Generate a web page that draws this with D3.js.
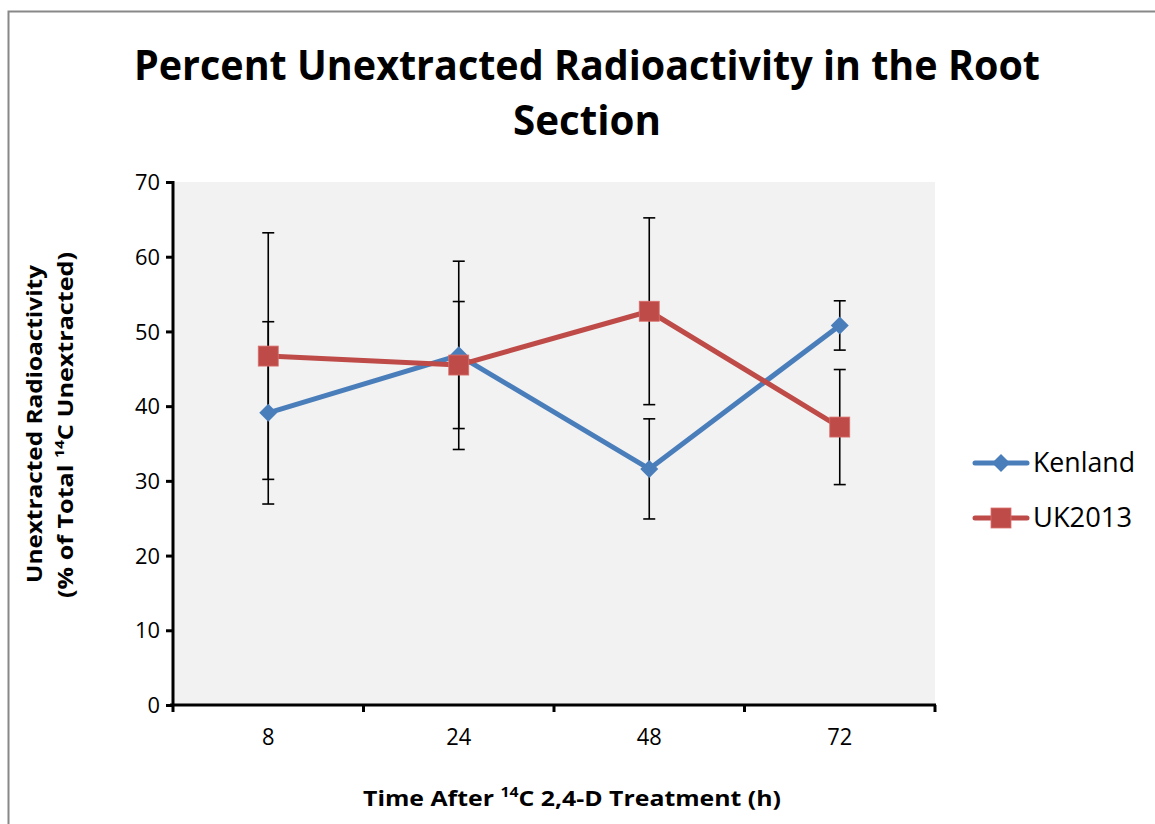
<!DOCTYPE html>
<html>
<head>
<meta charset="utf-8">
<script src="https://cdn.jsdelivr.net/npm/d3@7"></script>
<style>
  html, body { margin: 0; padding: 0; background: #fff; }
  svg { display: block; font-family: "Open Sans", "Liberation Sans", sans-serif; }
</style>
</head>
<body>
<svg id="chart" width="1155" height="824"></svg>
<script>
// ---- data ----
const categories = ["8", "24", "48", "72"];
const seriesNames = ["Kenland", "UK2013"];
const kenlandValues = [39.1, 46.8, 31.6, 50.8];
const kenlandErrors = [12.2, 12.6, 6.7, 3.3];
const uk2013Values = [46.7, 45.5, 52.7, 37.2];
const uk2013Errors = [16.5, 8.5, 12.5, 7.7];
const yTicks = [0, 10, 20, 30, 40, 50, 60, 70];
const colors = ["#4a7ebb", "#be4b48"];

const series = [
  { name: seriesNames[0], values: kenlandValues, errors: kenlandErrors, color: colors[0], marker: "diamond", labelW: 102 },
  { name: seriesNames[1], values: uk2013Values, errors: uk2013Errors, color: colors[1], marker: "square", labelW: 99 }
];

const svg = d3.select("#chart");
const W = 1155, H = 824;
const plot = { left: 173, right: 935, top: 182, bottom: 705 };

// outer border
svg.append("rect").attr("x", 8.5).attr("y", 11.5).attr("width", W + 10).attr("height", H + 10)
  .attr("fill", "#fff").attr("stroke", "#888").attr("stroke-width", 2);

const x = d3.scaleBand().domain(categories).range([plot.left, plot.right]).padding(0);
const y = d3.scaleLinear().domain([0, 70]).range([plot.bottom, plot.top]);

// plot background
svg.append("rect").attr("x", plot.left).attr("y", plot.top)
  .attr("width", plot.right - plot.left).attr("height", plot.bottom - plot.top)
  .attr("fill", "#f2f2f2");

// title
const title = svg.append("g").attr("font-weight", "bold").attr("font-size", 41).attr("fill", "#000").attr("text-anchor", "middle");
title.append("text").attr("x", 587).attr("y", 80).attr("textLength", 906).attr("lengthAdjust", "spacingAndGlyphs")
  .text("Percent Unextracted Radioactivity in the Root");
title.append("text").attr("x", 587).attr("y", 135).attr("textLength", 148).attr("lengthAdjust", "spacingAndGlyphs")
  .text("Section");

// y axis
const yAxis = d3.axisLeft(y).tickValues(yTicks).tickSize(7).tickPadding(6).tickFormat(d3.format("d"));
const gy = svg.append("g").attr("transform", `translate(${plot.left},0)`).call(yAxis);
gy.attr("font-size", null).attr("font-family", null);
gy.select(".domain").attr("stroke", "#000").attr("stroke-width", 3).attr("d", `M0,${plot.top - 1}V${plot.bottom + 1}`);
gy.selectAll(".tick line").attr("stroke", "#000").attr("stroke-width", 3);
gy.selectAll(".tick text").attr("font-size", 22).attr("fill", "#000").attr("dy", "0.35em")
  .attr("textLength", d => String(d).length * 12.5).attr("lengthAdjust", "spacingAndGlyphs");

// x axis
const xAxis = d3.axisBottom(x).tickSize(0).tickPadding(24);
const gx = svg.append("g").attr("transform", `translate(0,${plot.bottom})`).call(xAxis);
gx.attr("font-size", null).attr("font-family", null);
gx.select(".domain").attr("stroke", "#000").attr("stroke-width", 3).attr("d", `M${plot.left - 3},0H${plot.right + 1}`);
gx.selectAll(".tick text").attr("font-size", 23).attr("fill", "#000")
  .attr("textLength", d => String(d).length * 12.5).attr("lengthAdjust", "spacingAndGlyphs");
// category boundary ticks
const bounds = categories.map(c => x(c)).concat([x(categories[categories.length - 1]) + x.bandwidth()]);
gx.selectAll("line.bt").data(bounds).join("line").attr("class", "bt")
  .attr("x1", d => d).attr("x2", d => d).attr("y1", 0).attr("y2", 7)
  .attr("stroke", "#000").attr("stroke-width", 3);

// axis titles
const yt = svg.append("g").attr("font-weight", "bold").attr("font-size", 21).attr("fill", "#000").attr("text-anchor", "middle");
yt.append("text").attr("transform", "translate(42,424) rotate(-90)").attr("textLength", 318).attr("lengthAdjust", "spacingAndGlyphs")
  .text("Unextracted Radioactivity");
const yt2 = yt.append("text").attr("transform", "translate(73,425) rotate(-90)").attr("textLength", 346).attr("lengthAdjust", "spacingAndGlyphs");
yt2.append("tspan").text("(% of Total ");
yt2.append("tspan").attr("font-size", 13).attr("baseline-shift", "super").text("14");
yt2.append("tspan").text("C Unextracted)");

const xt = svg.append("text").attr("x", 572).attr("y", 806).attr("font-weight", "bold").attr("font-size", 22)
  .attr("text-anchor", "middle").attr("fill", "#000").attr("textLength", 418).attr("lengthAdjust", "spacingAndGlyphs");
xt.append("tspan").text("Time After ");
xt.append("tspan").attr("font-size", 14).attr("baseline-shift", "super").text("14");
xt.append("tspan").text("C 2,4-D Treatment (h)");

const cx = c => x(c) + x.bandwidth() / 2;

// error bars
series.forEach(s => {
  const g = svg.append("g").attr("stroke", "#000").attr("stroke-width", 1.6);
  categories.forEach((c, i) => {
    const v = s.values[i], e = s.errors[i];
    const px = cx(c);
    g.append("line").attr("x1", px).attr("x2", px).attr("y1", y(v - e)).attr("y2", y(v + e));
    [v - e, v + e].forEach(t => {
      g.append("line").attr("x1", px - 6).attr("x2", px + 6).attr("y1", y(t)).attr("y2", y(t));
    });
  });
});

// lines and markers
const line = d3.line().x((d, i) => cx(categories[i])).y(d => y(d));
function drawMarker(g, type, px, py, color) {
  if (type === "diamond") {
    const r = 9;
    g.append("path").attr("d", `M${px},${py - r}L${px + r},${py}L${px},${py + r}L${px - r},${py}Z`).attr("fill", color);
  } else {
    const s = 20;
    g.append("rect").attr("x", px - s / 2).attr("y", py - s / 2).attr("width", s).attr("height", s)
      .attr("fill", color).attr("stroke", "#d9706d").attr("stroke-width", 0.8);
  }
}
series.forEach(s => {
  svg.append("path").datum(s.values).attr("d", line).attr("fill", "none")
    .attr("stroke", s.color).attr("stroke-width", 5).attr("stroke-linejoin", "round");
});
series.forEach(s => {
  const g = svg.append("g");
  s.values.forEach((v, i) => drawMarker(g, s.marker, cx(categories[i]), y(v), s.color));
});

// legend
const legend = svg.append("g");
series.forEach((s, i) => {
  const ly = 463 + i * 55;
  legend.append("line").attr("x1", 975).attr("x2", 1027).attr("y1", ly).attr("y2", ly)
    .attr("stroke", s.color).attr("stroke-width", 5).attr("stroke-linecap", "round");
  drawMarker(legend, s.marker, 1001, ly, s.color);
  legend.append("text").attr("x", 1033).attr("y", ly + 9).attr("font-size", 27).attr("fill", "#000")
    .attr("textLength", s.labelW).attr("lengthAdjust", "spacingAndGlyphs").text(s.name);
});
</script>
</body>
</html>
